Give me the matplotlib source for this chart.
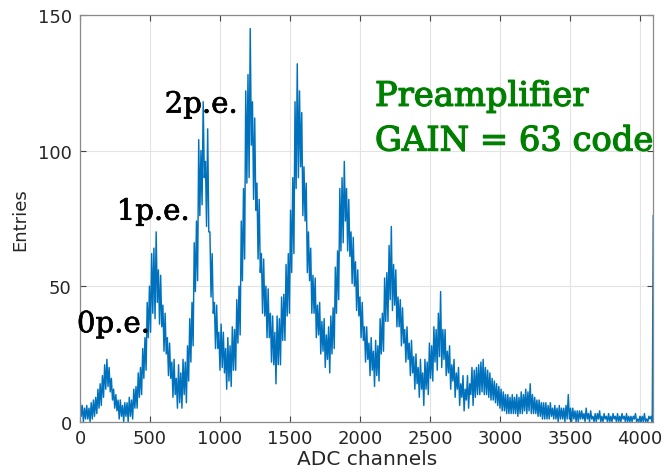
import numpy as np
import matplotlib
matplotlib.use("Agg")
import matplotlib.pyplot as plt
import matplotlib.patheffects as pe

# Spectrum: upper and lower edge of the noisy band,
# one reading every 16 ADC channels (upper at k*16, lower at k*16+8)
step = 16
band_high = [
    9, 6, 5, 6, 5, 7, 8, 9, 12, 14, 17, 21, 23, 20, 16, 12,
    10, 8, 8, 6, 7, 7, 9, 8, 12, 13, 18, 20, 27, 31, 44, 50,
    62, 64, 70, 56, 54, 43, 40, 31, 29, 22, 23, 16, 21, 18, 23, 22,
    28, 38, 44, 66, 74, 104, 100, 118, 96, 108, 70, 62, 44, 43, 33, 36,
    33, 27, 31, 28, 35, 34, 45, 50, 74, 86, 122, 128, 145, 118, 112, 88,
    82, 62, 60, 50, 49, 40, 39, 33, 39, 38, 46, 47, 58, 62, 78, 90,
    118, 132, 122, 114, 94, 88, 70, 64, 54, 53, 43, 44, 37, 38, 32, 35,
    39, 42, 57, 63, 86, 90, 96, 86, 82, 70, 68, 59, 56, 46, 44, 35,
    35, 29, 31, 26, 30, 28, 38, 40, 53, 55, 65, 72, 58, 56, 46, 45,
    42, 34, 35, 29, 30, 24, 25, 20, 23, 18, 23, 22, 29, 28, 35, 34,
    40, 48, 34, 34, 26, 28, 21, 23, 18, 20, 14, 17, 12, 17, 14, 20,
    19, 20, 21, 22, 23, 20, 19, 18, 16, 15, 14, 13, 12, 11, 10, 10,
    9, 10, 9, 10, 9, 11, 10, 12, 11, 14, 10, 9, 8, 8, 7, 7,
    7, 6, 7, 5, 6, 5, 6, 5, 5, 6, 10, 5, 5, 4, 4, 4,
    4, 3, 5, 3, 4, 2, 3, 3, 4, 2, 3, 2, 3, 2, 3, 2,
    3, 2, 3, 2, 3, 2, 2, 2, 3, 1, 2, 2, 3, 1, 2, 2,
]
band_low = [
    2, 0, 1, 1, 0, 1, 2, 3, 5, 6, 9, 12, 13, 11, 8, 5,
    4, 1, 2, 0, 2, 0, 2, 1, 5, 5, 9, 10, 16, 19, 31, 33,
    40, 38, 44, 36, 35, 26, 25, 17, 16, 9, 10, 5, 7, 5, 10, 7,
    15, 22, 28, 48, 52, 76, 80, 90, 72, 70, 46, 40, 27, 27, 19, 20,
    18, 12, 15, 13, 19, 19, 29, 32, 52, 60, 88, 90, 102, 82, 78, 60,
    55, 40, 39, 31, 31, 22, 21, 14, 21, 21, 30, 30, 39, 40, 55, 62,
    86, 90, 94, 76, 74, 55, 52, 40, 40, 31, 32, 25, 26, 20, 23, 18,
    25, 27, 40, 45, 63, 66, 74, 63, 61, 51, 50, 41, 39, 31, 30, 22,
    23, 17, 19, 13, 17, 15, 25, 26, 37, 37, 45, 41, 43, 35, 35, 28,
    29, 22, 23, 17, 18, 12, 14, 9, 12, 6, 12, 10, 16, 15, 22, 19,
    24, 20, 23, 17, 18, 12, 15, 9, 12, 6, 9, 4, 8, 5, 10, 6,
    9, 10, 10, 11, 10, 10, 9, 8, 8, 7, 6, 5, 4, 4, 3, 3,
    3, 3, 3, 2, 3, 3, 4, 3, 4, 3, 3, 3, 2, 2, 1, 1,
    1, 1, 2, 1, 1, 0, 1, 1, 0, 1, 1, 0, 1, 0, 0, 1,
    1, 0, 1, 0, 1, 0, 0, 1, 0, 0, 1, 0, 0, 0, 1, 0,
    0, 0, 1, 0, 0, 0, 0, 1, 0, 0, 0, 0, 0, 0, 1, 0,
]
last_channel = 4095
last_count = 76

x_ticks = [0, 500, 1000, 1500, 2000, 2500, 3000, 3500, 4000]
y_ticks = [0, 50, 100, 150]

pe_labels = ["0p.e.", "1p.e.", "2p.e."]
pe_pos_x = [-22, 262, 605]
pe_pos_y = [33, 74.5, 114]

title_lines = ["Preamplifier", "GAIN = 63 code"]

channels, values = [], []
for k, (hi, lo) in enumerate(zip(band_high, band_low)):
    channels += [k * step, k * step + step // 2]
    values += [hi, lo]
channels.append(last_channel)
values.append(last_count)

fig = plt.figure(figsize=(6.64, 4.77), dpi=100)
ax = fig.add_axes([0.1205, 0.1138, 0.8635, 0.8527])

ax.plot(channels, values, color="#0072BD", lw=1.05)

ax.set_xlim(0, 4096)
ax.set_ylim(0, 150)
ax.set_xticks(x_ticks)
ax.set_yticks(y_ticks)
ax.grid(True, color="#e3e3e3", lw=0.8)
ax.set_axisbelow(True)

spine_col = "#8a8a8a"
for s in ax.spines.values():
    s.set_color(spine_col)
    s.set_linewidth(0.9)
ax.tick_params(direction="in", length=4, width=0.8, color="#444444",
               top=True, right=True, labelsize=13, labelcolor="#262626")
ax.tick_params(axis="x", pad=5)
ax.tick_params(axis="y", pad=6)
for lab in ax.get_xticklabels() + ax.get_yticklabels():
    lab.set_fontfamily("DejaVu Sans")

ax.set_xlabel("ADC channels", fontsize=14.5, color="#262626",
              fontfamily="DejaVu Sans", labelpad=2)
ax.set_ylabel("Entries", fontsize=13, color="#262626",
              fontfamily="DejaVu Sans", labelpad=6)

thick = [pe.withStroke(linewidth=0.5, foreground="black")]
for t, xx, yy in zip(pe_labels, pe_pos_x, pe_pos_y):
    ax.text(xx, yy, t, fontsize=21, family="DejaVu Serif", color="black",
            ha="left", va="baseline", clip_on=False, path_effects=thick)

gthick = [pe.withStroke(linewidth=0.9, foreground="#008000")]
ax.text(2107, 116.5, title_lines[0], fontsize=24.3, family="DejaVu Serif",
        color="#008000", ha="left", va="baseline", path_effects=gthick)
ax.text(2107, 100, title_lines[1], fontsize=24.3, family="DejaVu Serif",
        color="#008000", ha="left", va="baseline", path_effects=gthick)

fig.savefig("out.png", dpi=100)
